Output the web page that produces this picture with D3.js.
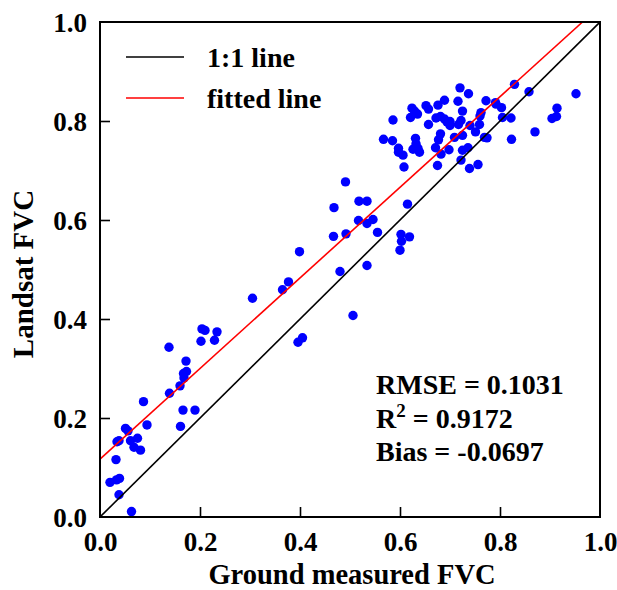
<!DOCTYPE html>
<html><head><meta charset="utf-8">
<script src="https://cdn.jsdelivr.net/npm/d3@7"></script>
<style>html,body{margin:0;padding:0;background:#fff;}svg{display:block;}</style>
</head><body>
<script>
const groundFVC = [0.204,0.210,0.234,0.202,0.229,0.138,0.172,0.167,0.173,0.168,0.160,0.139,0.087,0.166,0.190,0.094,0.161,0.051,0.056,0.038,0.034,0.075,0.061,0.068,0.081,0.032,0.020,0.033,0.039,0.038,0.063,
0.305,
0.608,0.675,0.491,0.518,0.534,0.468,0.615,0.517,0.546,0.534,0.555,0.467,0.492,0.602,0.603,0.619,0.600,0.399,0.534,0.480,0.377,0.365,0.506,0.405,0.396,
0.720,0.829,0.737,0.858,0.952,0.689,0.716,0.772,0.652,0.657,0.676,0.624,0.629,0.635,0.791,0.792,0.803,0.725,0.762,0.760,0.914,0.904,0.913,0.805,0.822,0.586,0.621,0.672,0.681,0.689,0.694,0.700,0.700,0.717,0.722,0.657,0.740,0.759,0.751,0.870,0.681,0.709,0.725,0.769,0.774,0.567,0.585,0.631,0.677,0.823,0.632,0.597,0.626,0.636,0.671,0.698,0.725,0.736,0.597,0.606,0.639,0.682,0.722,0.739,0.756];
const landsatFVC = [0.380,0.377,0.374,0.355,0.357,0.343,0.315,0.290,0.294,0.281,0.265,0.250,0.233,0.216,0.216,0.186,0.183,0.179,0.174,0.154,0.152,0.159,0.154,0.141,0.135,0.116,0.070,0.075,0.078,0.045,0.011,
0.442,
0.707,0.710,0.677,0.638,0.638,0.625,0.632,0.599,0.601,0.593,0.575,0.567,0.572,0.571,0.557,0.566,0.539,0.536,0.508,0.496,0.475,0.459,0.407,0.362,0.353,
0.867,0.874,0.855,0.859,0.855,0.842,0.840,0.841,0.831,0.824,0.832,0.826,0.820,0.814,0.837,0.834,0.827,0.820,0.817,0.810,0.826,0.805,0.809,0.807,0.806,0.802,0.807,0.806,0.809,0.804,0.798,0.799,0.791,0.793,0.801,0.793,0.791,0.793,0.778,0.778,0.774,0.767,0.771,0.767,0.766,0.763,0.760,0.765,0.762,0.763,0.754,0.745,0.743,0.745,0.746,0.742,0.741,0.746,0.737,0.731,0.737,0.733,0.721,0.704,0.712];
const tickValues = [0.0, 0.2, 0.4, 0.6, 0.8, 1.0];
const fitSlope = 0.915, fitIntercept = 0.117;
const legendLabels = ["1:1 line", "fitted line"];
const statsLines = [["RMSE = 0.1031", null], ["R", "2", " = 0.9172"], ["Bias = -0.0697", null]];

const W = 617, H = 590;
const svg = d3.select("body").append("svg").attr("width", W).attr("height", H)
  .style("font-family", "'Liberation Serif','Times New Roman',serif").style("font-weight", "bold");
const x = d3.scaleLinear().domain([0, 1]).range([100, 600]);
const y = d3.scaleLinear().domain([0, 1]).range([517, 22]);

svg.append("clipPath").attr("id", "c").append("rect")
  .attr("x", x(0)).attr("y", y(1)).attr("width", x(1) - x(0)).attr("height", y(0) - y(1));

// points
const pts = groundFVC.map((g, i) => [g, landsatFVC[i]]);
svg.append("g").selectAll("circle").data(pts).join("circle")
  .attr("cx", d => x(d[0])).attr("cy", d => y(d[1])).attr("r", 4.7).attr("fill", "#0000ff");

// lines
const lineG = svg.append("g").attr("clip-path", "url(#c)");
lineG.append("line").attr("x1", x(0)).attr("y1", y(0)).attr("x2", x(1)).attr("y2", y(1))
  .attr("stroke", "#000").attr("stroke-width", 1.6);
const xEnd = (1 - fitIntercept) / fitSlope;
lineG.append("line").attr("x1", x(0)).attr("y1", y(fitIntercept)).attr("x2", x(xEnd)).attr("y2", y(1))
  .attr("stroke", "#ff0000").attr("stroke-width", 1.6);

// axes
const fmt = d3.format(".1f");
const xAxis = svg.append("g").attr("transform", `translate(0,${y(0)})`)
  .call(d3.axisBottom(x).tickValues(tickValues).tickFormat(fmt).tickSizeInner(-10).tickSizeOuter(0).tickPadding(15));
const yAxis = svg.append("g").attr("transform", `translate(${x(0)},0)`)
  .call(d3.axisLeft(y).tickValues(tickValues).tickFormat(fmt).tickSizeInner(-10).tickSizeOuter(0).tickPadding(13));
[xAxis, yAxis].forEach(a => {
  a.select(".domain").remove();
  a.selectAll(".tick line").attr("stroke", "#000").attr("stroke-width", 1.6);
  a.selectAll(".tick text").attr("fill", "#000").style("font-size", "27px")
    .style("font-family", "'Liberation Serif','Times New Roman',serif").style("font-weight", "bold");
});
xAxis.selectAll(".tick text").attr("dy", "0.71em");
yAxis.selectAll(".tick text").attr("dy", "0.34em");
xAxis.selectAll(".tick").filter(d => d === 0 || d === 1).select("line").remove();
yAxis.selectAll(".tick").filter(d => d === 0 || d === 1).select("line").remove();

// frame
svg.append("rect").attr("x", x(0)).attr("y", y(1)).attr("width", x(1) - x(0)).attr("height", y(0) - y(1))
  .attr("fill", "none").attr("stroke", "#000").attr("stroke-width", 2);

// axis titles
svg.append("text").attr("x", 352).attr("y", 584).attr("text-anchor", "middle")
  .style("font-size", "28.5px").text("Ground measured FVC");
svg.append("text").attr("transform", "translate(33,274) rotate(-90)").attr("text-anchor", "middle")
  .style("font-size", "29px").text("Landsat FVC");

// legend
const legColors = ["#000", "#ff0000"];
legendLabels.forEach((lab, i) => {
  const ly = 57 + i * 41;
  svg.append("line").attr("x1", 126).attr("x2", 184).attr("y1", ly).attr("y2", ly)
    .attr("stroke", legColors[i]).attr("stroke-width", 1.6);
  svg.append("text").attr("x", 207).attr("y", ly + 10).style("font-size", "28px").text(lab);
});

// stats
statsLines.forEach((s, i) => {
  const t = svg.append("text").attr("x", 376).attr("y", 394 + i * 33.5).style("font-size", "28px");
  if (s[1] === null) { t.text(s[0]); }
  else {
    t.append("tspan").text(s[0]);
    t.append("tspan").attr("dy", -11).style("font-size", "19px").text(s[1]);
    t.append("tspan").attr("dy", 11).text(s[2]);
  }
});
</script>
</body></html>
